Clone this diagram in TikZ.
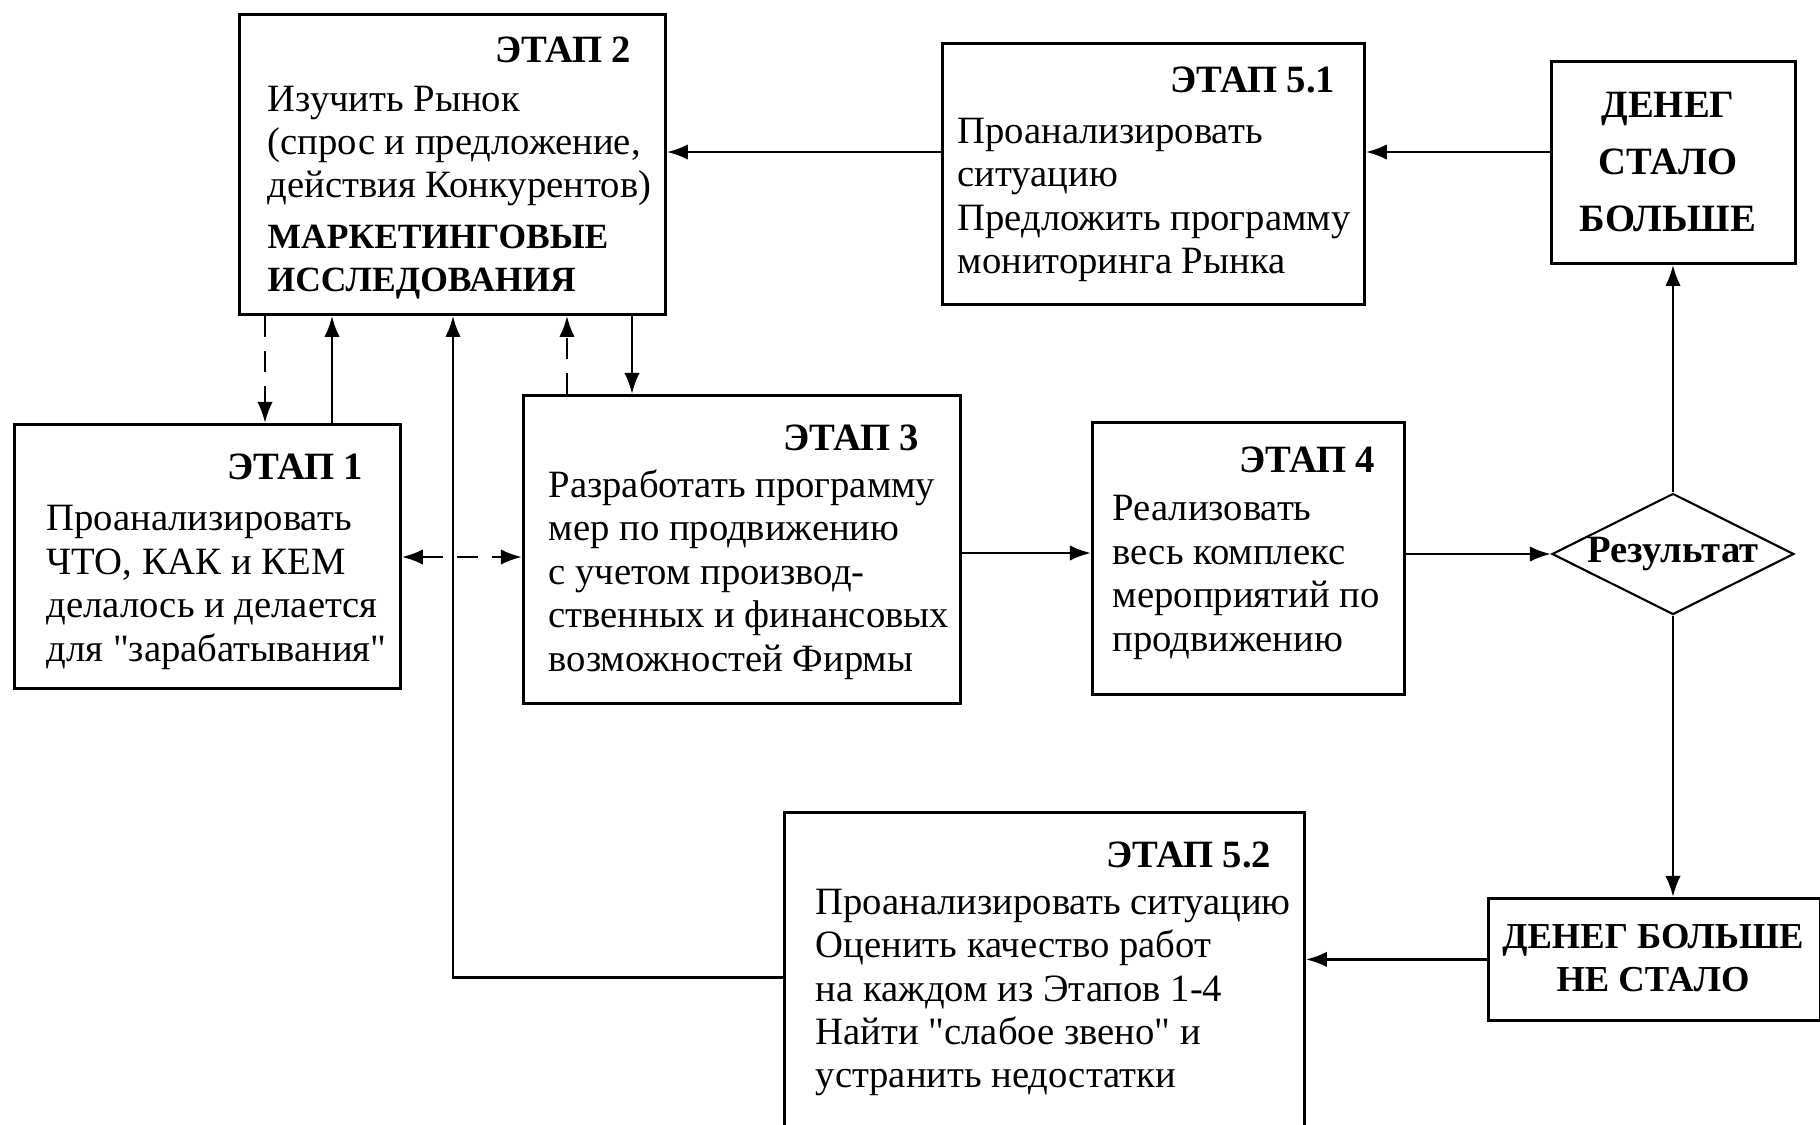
\documentclass[tikz,border=0pt]{standalone}
\usepackage{fontspec}
\setmainfont{Liberation Serif}[Ligatures=TeXOff]
\usetikzlibrary{shapes.geometric,arrows.meta}
\begin{document}
\begin{tikzpicture}[x=1cm,y=1cm,
  box/.style={draw, line width=0.8pt, inner sep=0pt, anchor=north west},
  head/.style={font=\fontsize{11}{12}\selectfont\bfseries, inner sep=0pt, anchor=east},
  body/.style={font=\fontsize{11}{12.35}\selectfont, align=left, inner sep=0pt, anchor=west},
  bbody/.style={body, font=\fontsize{10.1}{12.1}\selectfont\bfseries},
  ctext/.style={font=\fontsize{11}{12.35}\selectfont\bfseries, align=center, inner sep=0pt},
  arr/.style={line width=0.8pt, -{Latex[length=6pt,width=4.4pt]}},
  darr/.style={arr, dash pattern=on 6pt off 4pt},
]
\useasboundingbox (0,0) rectangle (18.2,-11.25);
\clip (0,0) rectangle (18.2,-11.25);

% boxes
\node[box, minimum width=4.26cm, minimum height=3.00cm] (e2) at (2.38,-0.13) {};
\node[box, minimum width=4.22cm, minimum height=2.61cm] (e51) at (9.41,-0.42) {};
\node[box, minimum width=2.44cm, minimum height=2.02cm] (dc) at (15.50,-0.60) {};
\node[box, minimum width=3.86cm, minimum height=2.64cm] (e1) at (0.13,-4.23) {};
\node[box, minimum width=4.37cm, minimum height=3.08cm] (e3) at (5.22,-3.94) {};
\node[box, minimum width=3.12cm, minimum height=2.72cm] (e4) at (10.91,-4.21) {};
\node[draw, line width=0.6pt, shape=diamond, aspect=2, inner sep=0pt,
      minimum width=2.42cm, minimum height=1.21cm,
      font=\fontsize{11}{12}\selectfont\bfseries] (res) at (16.73,-5.54) {Результат};
\node[box, minimum width=3.32cm, minimum height=1.22cm] (dn) at (14.87,-8.97) {};
\node[box, minimum width=5.20cm, minimum height=3.30cm] (e52) at (7.83,-8.11) {};

% texts
\node[head] (h2) at (6.32,-0.50) {ЭТАП 2};
\node[body] (t2a) at (2.67,-1.46) {Изучить Рынок\\(спрос и предложение,\\действия Конкурентов)};
\node[bbody] (t2b) at (2.67,-2.62) {МАРКЕТИНГОВЫЕ\\ИССЛЕДОВАНИЯ};

\node[head] (h51) at (13.36,-0.80) {ЭТАП 5.1};
\node[body] (t51) at (9.57,-2.00) {Проанализировать\\ситуацию\\Предложить программу\\мониторинга Рынка};

\node[ctext, font=\fontsize{11}{16.2}\selectfont\bfseries] (tdc) at (16.68,-1.62) {ДЕНЕГ\\СТАЛО\\БОЛЬШЕ};

\node[head] (h1) at (3.64,-4.67) {ЭТАП 1};
\node[body] (t1) at (0.46,-5.875) {Проанализировать\\ЧТО, КАК и КЕМ\\делалось и делается\\для "зарабатывания"};

\node[head] (h3) at (9.20,-4.38) {ЭТАП 3};
\node[body] (t3) at (5.48,-5.745) {Разработать программу\\мер по продвижению\\с учетом производ-\\ственных и финансовых\\возможностей Фирмы};

\node[head] (h4) at (13.76,-4.60) {ЭТАП 4};
\node[body] (t4) at (11.12,-5.775) {Реализовать\\весь комплекс\\мероприятий по\\продвижению};

\node[ctext, font=\fontsize{10.4}{12.35}\selectfont\bfseries] (tdn) at (16.53,-9.58) {ДЕНЕГ БОЛЬШЕ\\НЕ СТАЛО};

\node[head] (h52) at (12.72,-8.55) {ЭТАП 5.2};
\node[body] (t52) at (8.15,-9.925) {Проанализировать ситуацию\\Оценить качество работ\\на каждом из Этапов 1-4\\Найти "слабое звено" и\\устранить недостатки};

% connectors
\coordinate (yA) at (0,-1.52);
\coordinate (yB) at (0,-5.53);
\coordinate (yC) at (0,-5.57);
\draw[arr] (dc.west |- yA) -- (e51.east |- yA);
\draw[arr] (e51.west |- yA) -- (e2.east |- yA);
\draw[arr] (res.north) -- (res.north |- dc.south);
\draw[arr] (res.south) -- (res.south |- dn.north);
\draw[arr] (dn.west) -- (dn.west -| e52.east);
\draw[arr] (e52.west) -| ([xshift=2.15cm]e2.south west);
\draw[arr] (e4.east |- res.west) -- (res.west);
\draw[arr] (e3.east |- yB) -- (e4.west |- yB);
\draw[darr, {Latex[length=6pt,width=4.4pt]}-{Latex[length=6pt,width=4.4pt]}] (e1.east |- yC) -- (e3.west |- yC);
\draw[darr] ([xshift=0.27cm]e2.south west) -- ([xshift=0.27cm]e2.south west |- e1.north);
\draw[arr] ([xshift=0.94cm]e2.south west |- e1.north) -- ([xshift=0.94cm]e2.south west);
\draw[darr] ([xshift=3.29cm]e2.south west |- e3.north) -- ([xshift=3.29cm]e2.south west);
\draw[arr] ([xshift=3.94cm]e2.south west) -- ([xshift=3.94cm]e2.south west |- e3.north);
\end{tikzpicture}
\end{document}
